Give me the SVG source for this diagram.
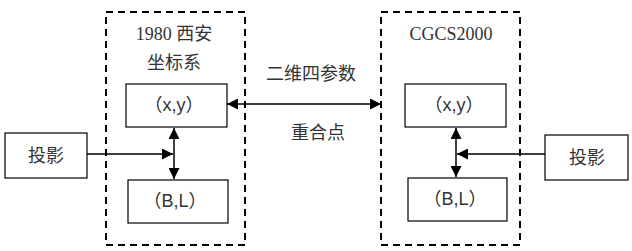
<svg xmlns="http://www.w3.org/2000/svg" width="632" height="251" viewBox="0 0 632 251">
<defs>
<marker id="ah" viewBox="0 0 10 10" refX="10" refY="5" markerWidth="11" markerHeight="11" markerUnits="userSpaceOnUse" orient="auto-start-reverse">
<path d="M0,0 L10,5 L0,10 z" fill="#000"/>
</marker>
<style>
.dash{fill:none;stroke:#000;stroke-width:2;stroke-dasharray:7,5}
.box{fill:#fff;stroke:#000;stroke-width:1.2}
.ln{fill:none;stroke:#000;stroke-width:1.5}
.cn{font-family:"Liberation Serif","Noto Sans CJK SC",serif;font-size:18px;fill:#333;text-anchor:middle}
.co{font-family:"Liberation Sans","Noto Sans CJK SC",sans-serif;font-size:18px;fill:#333;text-anchor:middle}
</style>
</defs>
<rect width="632" height="251" fill="#fff"/>
<g id="left-system">
<rect class="dash" x="106" y="12" width="139" height="233"/>
<text class="cn" x="174" y="40">1980 西安</text>
<text class="cn" x="174" y="69">坐标系</text>
</g>
<g id="right-system">
<rect class="dash" x="381" y="12" width="139" height="233"/>
<text class="cn" x="451" y="40">CGCS2000</text>
</g>
<g id="left-xy">
<rect class="box" x="126" y="84" width="101" height="43"/>
<text class="co" x="174" y="111">（x,y）</text>
</g>
<g id="left-bl">
<rect class="box" x="128" y="180" width="100" height="43"/>
<text class="co" x="175" y="207">（B,L）</text>
</g>
<g id="left-proj">
<rect class="box" x="5" y="133" width="82" height="45"/>
<text class="cn" x="46" y="162">投影</text>
</g>
<g id="right-xy">
<rect class="box" x="405" y="84" width="101" height="43"/>
<text class="co" x="454" y="111">（x,y）</text>
</g>
<g id="right-bl">
<rect class="box" x="408" y="178" width="99" height="43"/>
<text class="co" x="455" y="205">（B,L）</text>
</g>
<g id="right-proj">
<rect class="box" x="545" y="135" width="83" height="45"/>
<text class="cn" x="587" y="164">投影</text>
</g>
<g id="labels">
<text class="cn" x="311" y="80">二维四参数</text>
<text class="cn" x="318" y="139">重合点</text>
</g>
<g id="connectors">
<line class="ln" x1="227" y1="104" x2="381" y2="104" marker-start="url(#ah)" marker-end="url(#ah)"/>
<line class="ln" x1="174" y1="128" x2="174" y2="179" marker-start="url(#ah)" marker-end="url(#ah)"/>
<line class="ln" x1="87" y1="154" x2="173" y2="154" marker-end="url(#ah)"/>
<line class="ln" x1="456" y1="128" x2="456" y2="177" marker-start="url(#ah)" marker-end="url(#ah)"/>
<line class="ln" x1="545" y1="154" x2="457" y2="154" marker-end="url(#ah)"/>
</g>
</svg>
